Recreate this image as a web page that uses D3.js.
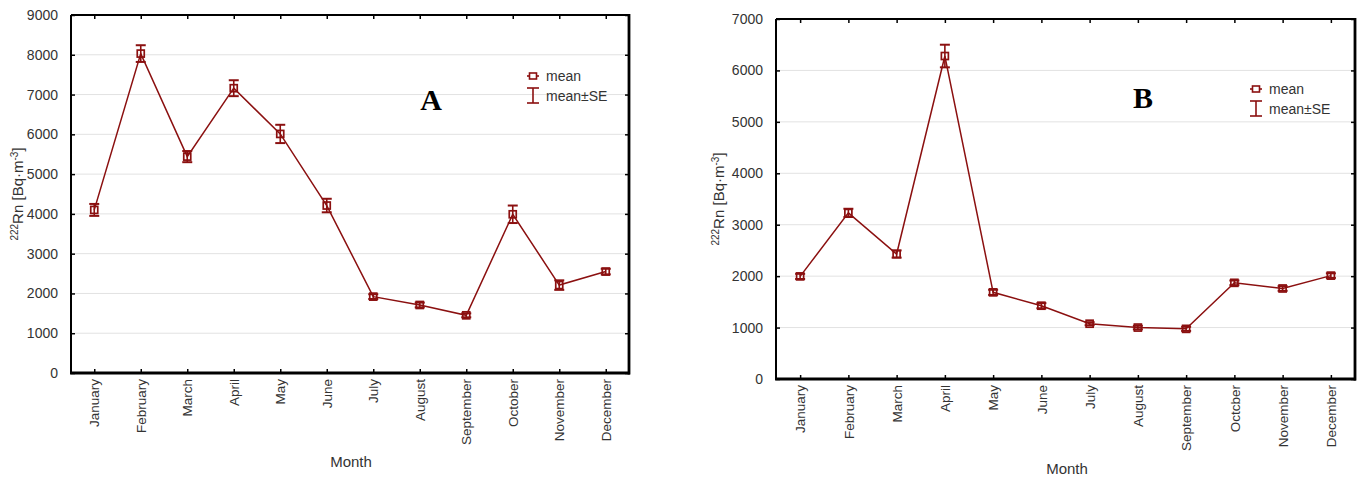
<!DOCTYPE html>
<html><head><meta charset="utf-8">
<script src="https://cdn.jsdelivr.net/npm/d3@7"></script>
<style>body{margin:0;background:#fff;}svg{display:block;}</style>
</head><body>
<svg id="chart" width="1363" height="477"></svg>
<script>
const months = ["January","February","March","April","May","June","July","August","September","October","November","December"];
const monthsB = ["January","February","March","April","May","June","July","August","September","Octcber","November","December"];
const meanA = [4100, 8030, 5440, 7160, 6010, 4210, 1920, 1710, 1450, 3990, 2210, 2550];
const seA   = [150, 210, 140, 200, 230, 170, 60, 60, 50, 220, 120, 70];
const meanB = [1995, 3230, 2430, 6280, 1685, 1425, 1075, 1000, 975, 1870, 1760, 2010];
const seB   = [50, 80, 70, 220, 50, 50, 30, 35, 40, 45, 45, 45];
const ticksA = [0,1000,2000,3000,4000,5000,6000,7000,8000,9000];
const ticksB = [0,1000,2000,3000,4000,5000,6000,7000];

const svg = d3.select("#chart");
const RED = "#8b1010";
const FONT = "'Liberation Sans', Arial, sans-serif";

function panel(cfg) {
  const g = svg.append("g");
  const x = d3.scalePoint().domain(d3.range(12)).range([cfg.x0, cfg.x1]).padding(0.5);
  const y = d3.scaleLinear().domain([0, cfg.ymax]).range([cfg.y1, cfg.y0]);

  // gridlines
  g.append("g").selectAll("line").data(cfg.ticks.filter(t => t > 0 && t < cfg.ymax)).join("line")
    .attr("x1", cfg.x0).attr("x2", cfg.x1).attr("y1", d => y(d)).attr("y2", d => y(d))
    .attr("stroke", "#e2e2e2").attr("stroke-width", 1);

  // axes using d3 axis (inside ticks)
  const yAxis = d3.axisLeft(y).tickValues(cfg.ticks).tickSize(-4).tickPadding(13).tickFormat(d3.format("d"));
  const ya = g.append("g").attr("transform", `translate(${cfg.x0},0)`).call(yAxis);
  ya.select(".domain").remove();
  ya.selectAll("line").attr("stroke", "#000").attr("stroke-width", 1.5);
  ya.selectAll("text").attr("font-family", FONT).attr("font-size", 14).attr("fill", "#333");

  const yr = g.append("g").attr("transform", `translate(${cfg.x1},0)`).call(d3.axisRight(y).tickValues(cfg.ticks).tickSize(-4).tickFormat(""));
  yr.select(".domain").remove();
  yr.selectAll("line").attr("stroke", "#000").attr("stroke-width", 1.5);

  const xa = g.append("g").attr("transform", `translate(0,${cfg.y1})`)
    .call(d3.axisBottom(x).tickSize(-4).tickFormat(i => cfg.labels[i]));
  xa.select(".domain").remove();
  xa.selectAll("line").attr("stroke", "#000").attr("stroke-width", 1.5);
  xa.selectAll("text").attr("font-family", FONT).attr("font-size", 13.5).attr("fill", "#333")
    .attr("transform", "rotate(-90)").attr("text-anchor", "end")
    .attr("x", -6).attr("y", 0).attr("dy", "0.35em");

  const xt = g.append("g").attr("transform", `translate(0,${cfg.y0})`)
    .call(d3.axisTop(x).tickSize(-4).tickFormat(""));
  xt.select(".domain").remove();
  xt.selectAll("line").attr("stroke", "#000").attr("stroke-width", 1.5);

  // frame
  g.append("line").attr("x1", cfg.x0).attr("x2", cfg.x1).attr("y1", cfg.y0).attr("y2", cfg.y0).attr("stroke", "#000").attr("stroke-width", 1.8);
  g.append("line").attr("x1", cfg.x0).attr("x2", cfg.x0).attr("y1", cfg.y0).attr("y2", cfg.y1).attr("stroke", "#000").attr("stroke-width", 2);
  g.append("line").attr("x1", cfg.x1).attr("x2", cfg.x1).attr("y1", cfg.y0 - 1).attr("y2", cfg.y1 + 1.5).attr("stroke", "#000").attr("stroke-width", 2.8);
  g.append("line").attr("x1", cfg.x0 - 1).attr("x2", cfg.x1 + 1).attr("y1", cfg.y1).attr("y2", cfg.y1).attr("stroke", "#000").attr("stroke-width", 2.8);

  // line
  g.append("path").datum(cfg.mean)
    .attr("d", d3.line().x((d, i) => x(i)).y(d => y(d)))
    .attr("fill", "none").attr("stroke", RED).attr("stroke-width", 1.5);

  // error bars
  const eb = g.append("g").selectAll("g").data(cfg.mean.map((m, i) => ({i, m, se: cfg.se[i]}))).join("g");
  eb.append("line").attr("x1", d => x(d.i)).attr("x2", d => x(d.i))
    .attr("y1", d => y(d.m + d.se)).attr("y2", d => y(d.m - d.se)).attr("stroke", RED).attr("stroke-width", 1.6);
  eb.append("line").attr("x1", d => x(d.i) - 5).attr("x2", d => x(d.i) + 5)
    .attr("y1", d => y(d.m + d.se)).attr("y2", d => y(d.m + d.se)).attr("stroke", RED).attr("stroke-width", 2);
  eb.append("line").attr("x1", d => x(d.i) - 5).attr("x2", d => x(d.i) + 5)
    .attr("y1", d => y(d.m - d.se)).attr("y2", d => y(d.m - d.se)).attr("stroke", RED).attr("stroke-width", 2);
  eb.append("rect").attr("x", d => x(d.i) - 3.5).attr("y", d => y(d.m) - 3.5)
    .attr("width", 7).attr("height", 7).attr("fill", "none").attr("stroke", RED).attr("stroke-width", 1.7);

  // legend
  const lg = g.append("g").attr("transform", `translate(${cfg.legX},${cfg.legY})`);
  lg.append("line").attr("x1", -6).attr("x2", 6).attr("y1", 0).attr("y2", 0).attr("stroke", RED).attr("stroke-width", 1.6);
  lg.append("rect").attr("x", -3.5).attr("y", -3).attr("width", 7).attr("height", 6).attr("fill", "#fff").attr("stroke", RED).attr("stroke-width", 1.6);
  lg.append("text").attr("x", 13).attr("y", 0).attr("dy", "0.35em").text("mean")
    .attr("font-family", FONT).attr("font-size", 14).attr("fill", "#333");
  lg.append("line").attr("x1", 0).attr("x2", 0).attr("y1", 12).attr("y2", 27).attr("stroke", RED).attr("stroke-width", 1.6);
  lg.append("line").attr("x1", -6).attr("x2", 6).attr("y1", 12).attr("y2", 12).attr("stroke", RED).attr("stroke-width", 1.6);
  lg.append("line").attr("x1", -6).attr("x2", 6).attr("y1", 27).attr("y2", 27).attr("stroke", RED).attr("stroke-width", 1.6);
  lg.append("text").attr("x", 13).attr("y", 20).attr("dy", "0.35em").text("mean±SE")
    .attr("font-family", FONT).attr("font-size", 14).attr("fill", "#333");

  // panel letter
  g.append("text").attr("x", cfg.letX).attr("y", cfg.letY).attr("text-anchor", "middle")
    .attr("font-family", "'Liberation Serif', 'Times New Roman', serif").attr("font-weight", "bold")
    .attr("font-size", 30).attr("fill", "#000").text(cfg.letter);

  // axis titles
  g.append("text").attr("x", cfg.monthX).attr("y", cfg.monthY).attr("text-anchor", "middle")
    .attr("font-family", FONT).attr("font-size", 15).attr("fill", "#333").text("Month");
  const yt = g.append("text").attr("transform", `translate(${cfg.ylabX},${(cfg.y0 + cfg.y1) / 2}) rotate(-90)`)
    .attr("text-anchor", "middle").attr("font-family", FONT).attr("font-size", 15).attr("fill", "#333");
  yt.append("tspan").attr("font-size", 10).attr("dy", -5).text("222");
  yt.append("tspan").attr("dy", 5).text("Rn [Bq·m");
  yt.append("tspan").attr("font-size", 10).attr("dy", -5).text("-3");
  yt.append("tspan").attr("dy", 5).text("]");
}

panel({x0: 71, x1: 629, y0: 15, y1: 373, ymax: 9000, ticks: ticksA, labels: months,
  mean: meanA, se: seA, legX: 533, legY: 76, letter: "A", letX: 431, letY: 110,
  monthX: 351, monthY: 467, ylabX: 23});
panel({x0: 776, x1: 1355, y0: 19, y1: 379, ymax: 7000, ticks: ticksB, labels: monthsB,
  mean: meanB, se: seB, legX: 1256, legY: 89, letter: "B", letX: 1143, letY: 108,
  monthX: 1067, monthY: 474, ylabX: 724});
</script>
</body></html>
